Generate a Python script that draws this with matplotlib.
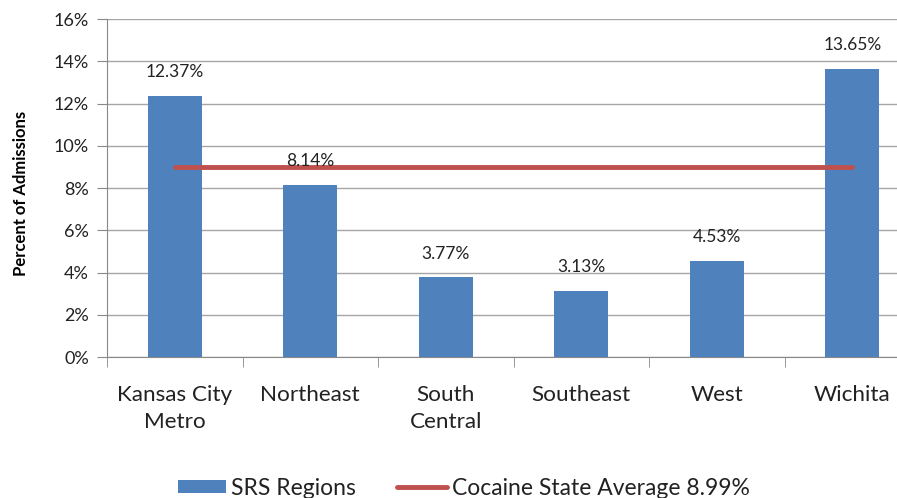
import numpy as np
import matplotlib.pyplot as plt
from matplotlib.ticker import PercentFormatter

plt.rcParams['font.family'] = ['Lato', 'DejaVu Sans']

regions = ['Kansas City\nMetro', 'Northeast', 'South\nCentral', 'Southeast', 'West', 'Wichita']
pct = [12.37, 8.14, 3.77, 3.13, 4.53, 13.65]
state_avg = 8.99

bar_color = '#4F81BD'
line_color = '#C0504D'

fig = plt.figure(figsize=(8.97, 4.98), dpi=100)
# plot area runs a bit past the right edge of the canvas
ax = fig.add_axes([0.1193, 0.2831, 0.9064, 0.6787])

x = np.arange(len(regions))
bars = ax.bar(x, pct, width=0.40, color=bar_color, zorder=3)
avg_line, = ax.plot([x[0], x[-1]], [state_avg, state_avg], color=line_color, lw=3.5,
                    solid_capstyle='round', zorder=4)

for xi, v in zip(x, pct):
    ax.text(xi, v + 0.75, '{:.2f}%'.format(v), ha='center', va='bottom',
            fontsize=12.5, color='#222222', zorder=5)

ax.set_xlim(-0.5, len(regions) - 0.5)
ax.set_ylim(0, 16)
ax.set_yticks(np.arange(0, 17, 2))
ax.yaxis.set_major_formatter(PercentFormatter(decimals=0))
ax.grid(axis='y', color='#A6A6A6', lw=1, zorder=0)

# category labels centred, tick marks on the category boundaries
ax.set_xticks(x)
ax.set_xticklabels(regions, fontsize=16.2, linespacing=1.45, color='#222222')
ax.tick_params(axis='x', length=0, pad=20)
ax.set_xticks(np.arange(-0.5, len(regions)), minor=True)
ax.tick_params(axis='x', which='minor', length=7, color='#888888')
ax.tick_params(axis='y', length=7, color='#888888', labelsize=13, pad=6, labelcolor='#222222')

for side in ['top', 'right']:
    ax.spines[side].set_visible(False)
for side in ['left', 'bottom']:
    ax.spines[side].set_color('#888888')

ax.set_ylabel('Percent of Admissions', fontsize=12, fontweight='bold')
ax.yaxis.set_label_coords(-0.096, 0.485)

fig.legend([bars], ['SRS Regions'], loc='center left', bbox_to_anchor=(0.1858, 0.02),
           frameon=False, fontsize=16.5, handlelength=2.1, handleheight=0.5,
           handletextpad=0.22, borderpad=0, labelcolor='#222222')
fig.legend([avg_line], ['Cocaine State Average {:.2f}%'.format(state_avg)],
           loc='center left', bbox_to_anchor=(0.4296, 0.02), frameon=False,
           fontsize=16.5, handlelength=2.2, handletextpad=0.2, borderpad=0,
           labelcolor='#222222')

fig.savefig('out.png', dpi=100)
